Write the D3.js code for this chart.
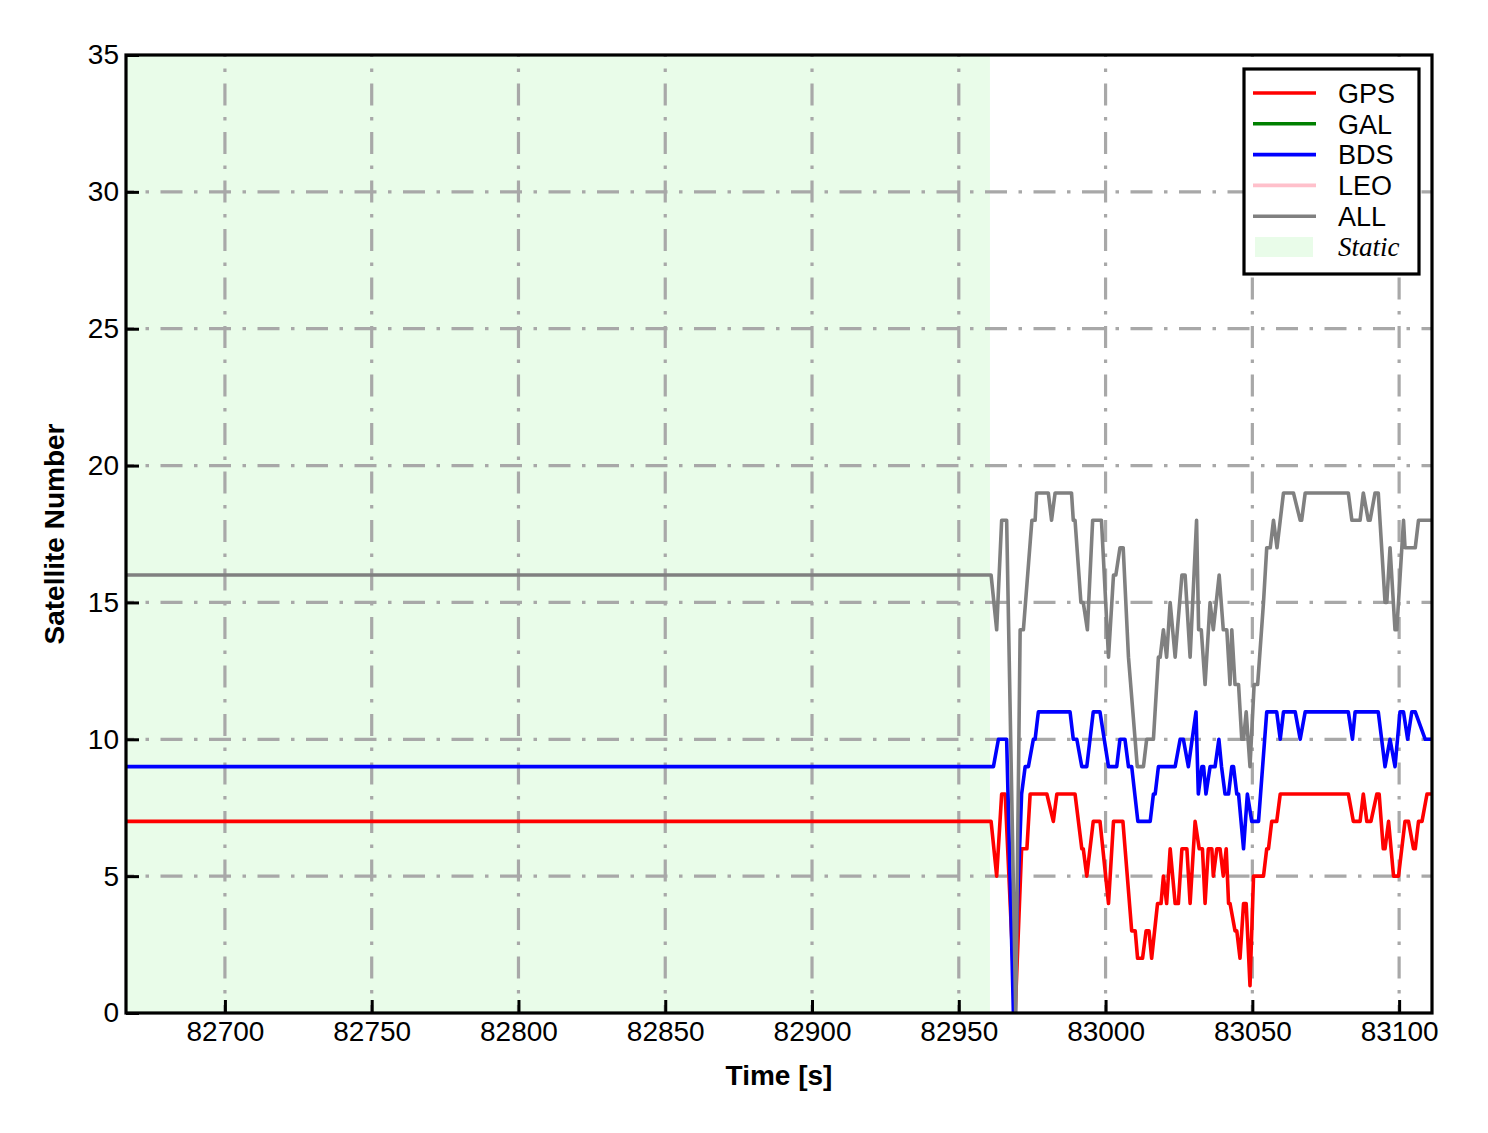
<!DOCTYPE html>
<html>
<head>
<meta charset="utf-8">
<script src="https://cdn.jsdelivr.net/npm/d3@7"></script>
<style>
  body { margin: 0; background: #fff; }
  text { font-family: "Liberation Sans", Arial, sans-serif; }
</style>
</head>
<body>
<div id="chart"></div>
<script>
var w = 1488,
    h = 1133;

var margin = {top: 55, right: 56, bottom: 120, left: 126};
var iw = w - margin.left - margin.right,
    ih = h - margin.top - margin.bottom;

// axis ranges and ticks
var xDomain = [82666.3, 83111.2];
var yDomain = [0, 35];
var xTicks = [82700, 82750, 82800, 82850, 82900, 82950, 83000, 83050, 83100];
var yTicks = [0, 5, 10, 15, 20, 25, 30, 35];
var staticSpan = [82666.3, 82960.6];

// series: [time (s), satellite count]
var gpsSeries = [
    [82666, 7], [82961.0, 7], [82962.9, 5], [82964.6, 8], [82965.8, 8], [82969.2, 0],
    [82971.4, 6], [82973.2, 6], [82974.3, 8], [82980.0, 8], [82982.2, 7], [82983.4, 8],
    [82989.6, 8], [82991.9, 6], [82992.4, 6], [82993.6, 5], [82995.8, 7], [82998.1, 7],
    [83001.0, 4], [83002.7, 7], [83005.9, 7], [83008.9, 3], [83010.1, 3], [83010.9, 2],
    [83012.6, 2], [83013.8, 3], [83014.8, 3], [83015.7, 2], [83017.7, 4], [83018.9, 4],
    [83019.7, 5], [83020.8, 4], [83022.0, 6], [83023.7, 4], [83024.8, 4], [83026.0, 6],
    [83027.7, 6], [83028.8, 4], [83030.5, 7], [83031.9, 6], [83033.0, 6], [83033.9, 4],
    [83035.0, 6], [83036.2, 6], [83036.7, 5], [83037.9, 6], [83039.0, 6], [83040.1, 5],
    [83041.1, 6], [83041.9, 4], [83042.4, 4], [83044.1, 3], [83044.7, 3], [83045.8, 2],
    [83047.0, 4], [83047.9, 4], [83049.2, 1], [83050.4, 5], [83053.8, 5], [83054.9, 6],
    [83055.5, 6], [83056.6, 7], [83058.3, 7], [83059.5, 8], [83082.7, 8], [83084.4, 7],
    [83086.7, 7], [83087.8, 8], [83089.0, 7], [83090.4, 7], [83092.4, 8], [83093.2, 8],
    [83094.6, 6], [83095.2, 6], [83096.4, 7], [83098.1, 5], [83099.8, 5], [83102.0, 7],
    [83103.2, 7], [83104.9, 6], [83105.5, 6], [83106.6, 7], [83107.8, 7], [83109.5, 8],
    [83111.2, 8]
];

var galSeries = [];

var bdsSeries = [
    [82666, 9], [82961.8, 9], [82963.5, 10], [82966.3, 10], [82968.6, 0], [82971.4, 8],
    [82972.6, 9], [82973.7, 9], [82975.4, 10], [82976.0, 10], [82977.1, 11], [82987.9, 11],
    [82989.0, 10], [82990.2, 10], [82991.9, 9], [82993.6, 9], [82995.8, 11], [82998.1, 11],
    [83001.0, 9], [83003.8, 9], [83004.9, 10], [83006.6, 10], [83007.8, 9], [83008.9, 9],
    [83011.0, 7], [83015.2, 7], [83016.3, 8], [83016.9, 8], [83018.0, 9], [83023.7, 9],
    [83025.4, 10], [83026.5, 10], [83028.2, 9], [83030.8, 11], [83031.6, 8], [83032.8, 9],
    [83033.4, 9], [83034.2, 8], [83035.6, 9], [83037.3, 9], [83038.6, 10], [83039.5, 9],
    [83040.7, 8], [83041.9, 8], [83043.0, 9], [83043.6, 9], [83044.7, 8], [83045.3, 8],
    [83047.0, 6], [83048.3, 8], [83049.8, 7], [83052.1, 7], [83054.9, 11], [83058.3, 11],
    [83059.5, 10], [83060.6, 11], [83064.6, 11], [83066.3, 10], [83068.0, 11], [83082.7, 11],
    [83084.1, 10], [83085.0, 11], [83092.9, 11], [83095.2, 9], [83096.9, 10], [83098.6, 9],
    [83100.3, 11], [83101.5, 11], [83102.9, 10], [83104.3, 11], [83105.5, 11], [83108.9, 10],
    [83111.2, 10]
];

var leoSeries = [];

var allSeries = [
    [82666, 16], [82961.0, 16], [82962.9, 14], [82964.6, 18], [82966.3, 18], [82969.4, 0],
    [82970.9, 14], [82972.0, 14], [82974.9, 18], [82976.0, 18], [82976.5, 19], [82980.5, 19],
    [82981.6, 18], [82982.8, 19], [82988.4, 19], [82989.0, 18], [82989.6, 18], [82991.6, 15],
    [82992.4, 15], [82993.8, 14], [82995.6, 18], [82998.6, 18], [83001.0, 13], [83002.7, 16],
    [83003.5, 16], [83004.9, 17], [83006.0, 17], [83007.8, 13], [83010.8, 9], [83012.9, 9],
    [83014.0, 10], [83016.3, 10], [83018.0, 13], [83018.6, 13], [83019.7, 14], [83020.8, 13],
    [83022.0, 15], [83023.7, 13], [83026.0, 16], [83027.1, 16], [83028.8, 13], [83031.0, 18],
    [83031.7, 14], [83032.6, 14], [83033.9, 12], [83035.6, 15], [83036.7, 14], [83038.7, 16],
    [83040.1, 14], [83041.3, 14], [83042.4, 12], [83043.0, 14], [83044.1, 12], [83045.3, 12],
    [83046.4, 10], [83047.0, 10], [83047.9, 11], [83049.2, 9], [83050.6, 12], [83051.8, 12],
    [83053.8, 15], [83054.9, 17], [83056.1, 17], [83057.2, 18], [83058.4, 17], [83060.6, 19],
    [83064.0, 19], [83066.3, 18], [83066.8, 18], [83068.0, 19], [83082.7, 19], [83083.9, 18],
    [83086.7, 18], [83087.8, 19], [83089.5, 18], [83090.1, 18], [83091.8, 19], [83092.9, 19],
    [83095.2, 15], [83095.8, 15], [83096.9, 17], [83098.6, 14], [83099.2, 14], [83101.5, 18],
    [83102.0, 17], [83105.5, 17], [83106.6, 18], [83111.2, 18]
];

var seriesNames = ["GPS", "GAL", "BDS", "LEO", "ALL"];
var seriesColors = ["#ff0000", "#008000", "#0000ff", "#ffc0cb", "#808080"];
var seriesData = [gpsSeries, galSeries, bdsSeries, leoSeries, allSeries];
var staticColor = "#e9fce9";

var x = d3.scaleLinear().domain(xDomain).range([0, iw]);
var y = d3.scaleLinear().domain(yDomain).range([ih, 0]);

var svg = d3.select("#chart").append("svg")
    .attr("width", w)
    .attr("height", h);

svg.append("rect").attr("width", w).attr("height", h).attr("fill", "#fff");

var g = svg.append("g")
    .attr("transform", "translate(" + margin.left + "," + margin.top + ")");

g.append("clipPath").attr("id", "clip")
    .append("rect").attr("width", iw).attr("height", ih);

// static period shading
g.append("rect")
    .attr("x", x(staticSpan[0]))
    .attr("y", 0)
    .attr("width", x(staticSpan[1]) - x(staticSpan[0]))
    .attr("height", ih)
    .attr("fill", staticColor);

// dash-dot grid
var gridDash = "22,11.5,3.5,11.5";
g.append("g").attr("class", "grid")
    .selectAll("line").data(yTicks.filter(function(d) { return d > 0 && d < 35; }))
    .enter().append("line")
    .attr("x1", 0).attr("x2", iw)
    .attr("y1", function(d) { return y(d); })
    .attr("y2", function(d) { return y(d); })
    .attr("stroke", "#a8a8a8")
    .attr("stroke-width", 3.2)
    .attr("stroke-dasharray", gridDash)
    .attr("stroke-dashoffset", 14);

g.append("g").attr("class", "grid")
    .selectAll("line").data(xTicks)
    .enter().append("line")
    .attr("x1", function(d) { return x(d); })
    .attr("x2", function(d) { return x(d); })
    .attr("y1", ih).attr("y2", 0)
    .attr("stroke", "#a8a8a8")
    .attr("stroke-width", 3.2)
    .attr("stroke-dasharray", gridDash)
    .attr("stroke-dashoffset", 14);

// data lines
var line = d3.line()
    .x(function(d) { return x(d[0]); })
    .y(function(d) { return y(d[1]); });

g.append("g").attr("clip-path", "url(#clip)")
    .selectAll("path").data(seriesData)
    .enter().append("path")
    .attr("d", function(d) { return d.length ? line(d) : null; })
    .attr("fill", "none")
    .attr("stroke", function(d, i) { return seriesColors[i]; })
    .attr("stroke-width", 3.6)
    .attr("stroke-linejoin", "round");

// axes with inward ticks
var xAxis = g.append("g")
    .attr("transform", "translate(0," + ih + ")")
    .call(d3.axisBottom(x).tickValues(xTicks).tickFormat(d3.format("d"))
        .tickSizeInner(-13).tickSizeOuter(0).tickPadding(8));

var yAxis = g.append("g")
    .call(d3.axisLeft(y).tickValues(yTicks).tickFormat(d3.format("d"))
        .tickSizeInner(-13).tickSizeOuter(0).tickPadding(7));

[xAxis, yAxis].forEach(function(a) {
    a.select(".domain").remove();
    a.selectAll(".tick line").attr("stroke", "#000").attr("stroke-width", 3);
    a.selectAll(".tick text")
        .attr("fill", "#000")
        .style("font-size", "28px")
        .style("font-family", "'Liberation Sans', Arial, sans-serif");
});

// frame
g.append("rect")
    .attr("width", iw).attr("height", ih)
    .attr("fill", "none")
    .attr("stroke", "#000")
    .attr("stroke-width", 3.2);

// axis titles
g.append("text")
    .attr("x", iw / 2)
    .attr("y", ih + 72)
    .attr("text-anchor", "middle")
    .style("font-size", "28px")
    .style("font-weight", "bold")
    .text("Time [s]");

g.append("text")
    .attr("transform", "translate(" + (-62) + "," + (ih / 2) + ") rotate(-90)")
    .attr("text-anchor", "middle")
    .style("font-size", "28px")
    .style("font-weight", "bold")
    .text("Satellite Number");

// legend
var legend = svg.append("g").attr("transform", "translate(1244,69)");

legend.append("rect")
    .attr("width", 175).attr("height", 205)
    .attr("fill", "#fff")
    .attr("stroke", "#000")
    .attr("stroke-width", 3.2);

var items = legend.selectAll(".item").data(seriesNames)
    .enter().append("g")
    .attr("class", "item")
    .attr("transform", function(d, i) { return "translate(0," + (24 + i * 30.8) + ")"; });

items.append("line")
    .attr("x1", 9).attr("x2", 72)
    .attr("stroke", function(d, i) { return seriesColors[i]; })
    .attr("stroke-width", 3.6);

items.append("text")
    .attr("x", 94)
    .attr("dy", "0.36em")
    .style("font-size", "27px")
    .text(function(d) { return d; });

var st = legend.append("g").attr("transform", "translate(0," + (24 + 5 * 30.8) + ")");
st.append("rect")
    .attr("x", 11).attr("y", -10)
    .attr("width", 58).attr("height", 20)
    .attr("fill", staticColor);
st.append("text")
    .attr("x", 94)
    .attr("dy", "0.33em")
    .style("font-size", "27px")
    .style("font-style", "italic")
    .style("font-family", "'Liberation Serif', 'Times New Roman', serif")
    .text("Static");
</script>
</body>
</html>
